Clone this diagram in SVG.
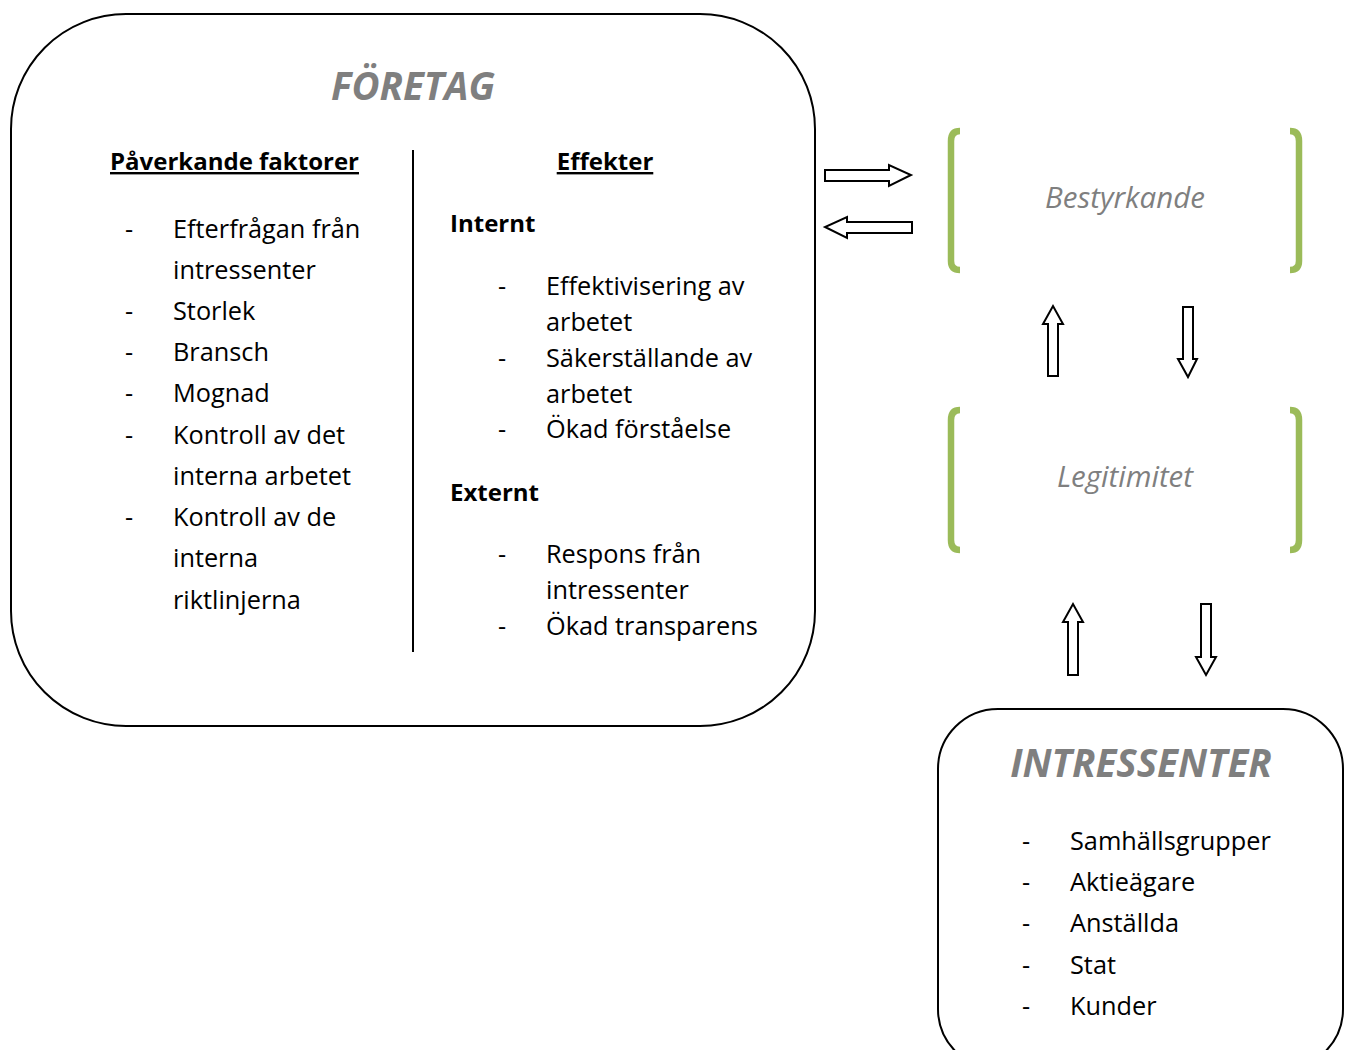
<svg xmlns="http://www.w3.org/2000/svg" width="1352" height="1050" viewBox="0 0 1352 1050">
  <style>
    .box { fill: #ffffff; stroke: #000000; stroke-width: 2; }
    .title { font-family: "Open Sans", "Liberation Sans", sans-serif; font-weight: bold; font-style: italic; fill: #7f7f7f; font-size: 38.5px; text-anchor: middle; }
    .head { font-family: "Open Sans", "Liberation Sans", sans-serif; font-weight: bold; fill: #000000; font-size: 24px; }
    .item { font-family: "Open Sans", "Liberation Sans", sans-serif; fill: #000000; font-size: 25.3px; }
    .state { font-family: "Open Sans", "Liberation Sans", sans-serif; font-style: italic; fill: #7f7f7f; font-size: 29.5px; text-anchor: middle; }
    .bracket { fill: none; stroke: #9bbb59; stroke-width: 6.5; }
    .arrow { fill: #ffffff; stroke: #000000; stroke-width: 2; stroke-linejoin: miter; }
  </style>

  <!-- Company block -->
  <g id="foretag">
    <rect class="box" x="11" y="14" width="804" height="712" rx="115" ry="115"/>
    <text class="title" x="413" y="100">FÖRETAG</text>
    <line x1="413" y1="150" x2="413" y2="652" stroke="#000" stroke-width="2"/>

    <text class="head" x="110" y="170" text-decoration="underline">Påverkande faktorer</text>
    <g class="item">
      <text x="125" y="238">-</text><text x="173" y="238">Efterfrågan från</text>
      <text x="173" y="279">intressenter</text>
      <text x="125" y="320">-</text><text x="173" y="320">Storlek</text>
      <text x="125" y="361">-</text><text x="173" y="361">Bransch</text>
      <text x="125" y="402">-</text><text x="173" y="402">Mognad</text>
      <text x="125" y="444">-</text><text x="173" y="444">Kontroll av det</text>
      <text x="173" y="485">interna arbetet</text>
      <text x="125" y="526">-</text><text x="173" y="526">Kontroll av de</text>
      <text x="173" y="567">interna</text>
      <text x="173" y="609">riktlinjerna</text>
    </g>

    <text class="head" x="605" y="170" text-anchor="middle" text-decoration="underline">Effekter</text>
    <text class="head" x="450" y="232">Internt</text>
    <g class="item">
      <text x="498" y="295">-</text><text x="546" y="295">Effektivisering av</text>
      <text x="546" y="331">arbetet</text>
      <text x="498" y="367">-</text><text x="546" y="367">Säkerställande av</text>
      <text x="546" y="403">arbetet</text>
      <text x="498" y="438">-</text><text x="546" y="438">Ökad förståelse</text>
    </g>
    <text class="head" x="450" y="501">Externt</text>
    <g class="item">
      <text x="498" y="563">-</text><text x="546" y="563">Respons från</text>
      <text x="546" y="599">intressenter</text>
      <text x="498" y="635">-</text><text x="546" y="635">Ökad transparens</text>
    </g>
  </g>

  <!-- Assurance -->
  <g id="bestyrkande">
    <path class="bracket" d="M960,131 Q951,131 951,141 V261 Q951,270 960,270"/>
    <path class="bracket" d="M1290,131 Q1299,131 1299,141 V261 Q1299,270 1290,270"/>
    <text class="state" x="1125" y="208">Bestyrkande</text>
  </g>

  <!-- Legitimacy -->
  <g id="legitimitet">
    <path class="bracket" d="M960,410 Q951,410 951,420 V540 Q951,550 960,550"/>
    <path class="bracket" d="M1290,410 Q1299,410 1299,420 V540 Q1299,550 1290,550"/>
    <text class="state" x="1125" y="487">Legitimitet</text>
  </g>

  <!-- Stakeholders -->
  <g id="intressenter">
    <rect class="box" x="938" y="709" width="405" height="360" rx="60" ry="60"/>
    <text class="title" x="1141" y="777">INTRESSENTER</text>
    <g class="item">
      <text x="1022" y="850">-</text><text x="1070" y="850">Samhällsgrupper</text>
      <text x="1022" y="891">-</text><text x="1070" y="891">Aktieägare</text>
      <text x="1022" y="932">-</text><text x="1070" y="932">Anställda</text>
      <text x="1022" y="974">-</text><text x="1070" y="974">Stat</text>
      <text x="1022" y="1015">-</text><text x="1070" y="1015">Kunder</text>
    </g>
  </g>

  <!-- Block arrows between the blocks -->
  <g id="connectors">
    <polygon class="arrow" points="825,170 889,170 889,165 911,175 889,186 889,181 825,181"/>
    <polygon class="arrow" points="912,222 847,222 847,217 825,227 847,238 847,233 912,233"/>
    <polygon class="arrow" points="1048,376 1048,324 1043,324 1053,306 1063,324 1058,324 1058,376"/>
    <polygon class="arrow" points="1183,307 1193,307 1193,359 1197,359 1188,377 1178,359 1183,359"/>
    <polygon class="arrow" points="1068,675 1068,622 1063,622 1073,604 1083,622 1078,622 1078,675"/>
    <polygon class="arrow" points="1201,604 1211,604 1211,657 1216,657 1206,675 1196,657 1201,657"/>
  </g>
</svg>
